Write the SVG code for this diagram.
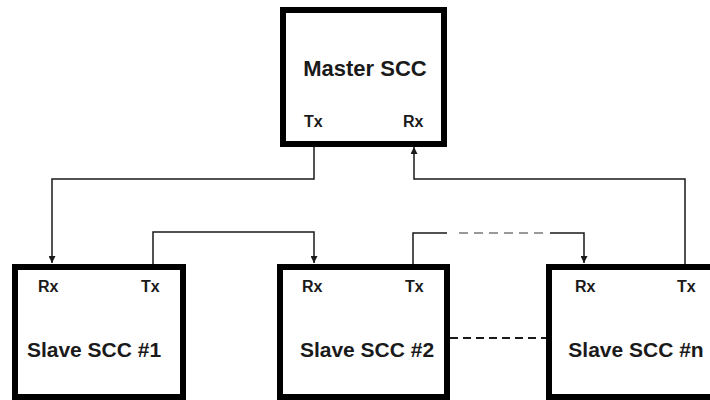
<svg xmlns="http://www.w3.org/2000/svg" width="710" height="400" viewBox="0 0 710 400">
<style>
.box{fill:#fff;stroke:#000;stroke-width:6}
.title{font-family:"Liberation Sans",Arial,sans-serif;font-weight:bold;font-size:21px;fill:#1a1a1a;text-anchor:middle}
.port{font-family:"Liberation Sans",Arial,sans-serif;font-weight:bold;font-size:16px;fill:#1a1a1a}
.wire{fill:none;stroke:#1a1a1a;stroke-width:1.5}
.dashg{fill:none;stroke:#999;stroke-width:2;stroke-dasharray:9 6}
.dashk{fill:none;stroke:#1a1a1a;stroke-width:2;stroke-dasharray:8 5}
</style>
<defs>
<marker id="arr" viewBox="0 0 10 10" refX="10" refY="5" markerWidth="7" markerHeight="7" markerUnits="userSpaceOnUse" orient="auto">
<path d="M0,0 L10,5 L0,10 z" fill="#1a1a1a"/>
</marker>
</defs>
<rect width="710" height="400" fill="#fff"/>
<g id="master">
<rect class="box" x="283" y="10" width="161" height="134"/>
<text class="title" x="365" y="76" style="font-size:22px">Master SCC</text>
<text class="port" x="304" y="127">Tx</text>
<text class="port" x="403" y="127">Rx</text>
</g>
<g id="slave1">
<rect class="box" x="15" y="267" width="168" height="130"/>
<text class="port" x="38" y="292">Rx</text>
<text class="port" x="141" y="292">Tx</text>
<text class="title" x="94" y="357">Slave SCC #1</text>
</g>
<g id="slave2">
<rect class="box" x="280" y="267" width="167" height="130"/>
<text class="port" x="302" y="292">Rx</text>
<text class="port" x="405" y="292">Tx</text>
<text class="title" x="367" y="357">Slave SCC #2</text>
</g>
<g id="slaven">
<rect class="box" x="549" y="267" width="200" height="130"/>
<text class="port" x="575" y="292">Rx</text>
<text class="port" x="677" y="292">Tx</text>
<text class="title" x="636" y="357">Slave SCC #n</text>
</g>
<g id="connectors">
<path class="wire" d="M314,147 V179 H52 V263" marker-end="url(#arr)"/>
<path class="wire" d="M153,264 V232 H314 V263" marker-end="url(#arr)"/>
<path class="wire" d="M413,264 V233 H447"/>
<path class="dashg" d="M459,233 H544"/>
<path class="wire" d="M550,233 H584 V263" marker-end="url(#arr)"/>
<path class="wire" d="M685,264 V179 H414 V147" marker-end="url(#arr)"/>
<path class="dashk" d="M450,338 H546"/>
</g>
</svg>
